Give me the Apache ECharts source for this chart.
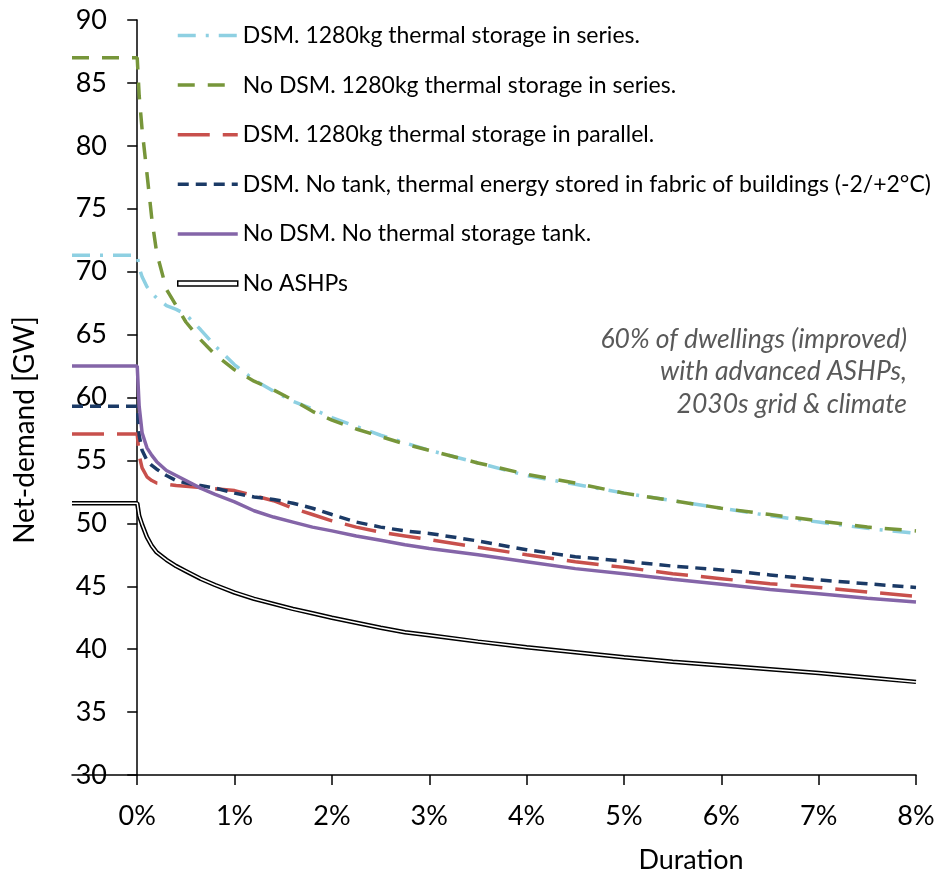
<!DOCTYPE html>
<html>
<head>
<meta charset="utf-8">
<script src="https://cdn.jsdelivr.net/npm/echarts@6/dist/echarts.min.js"></script>
<style>
  html, body { margin: 0; padding: 0; background: #fff; }
  #chart { width: 941px; height: 879px; }
</style>
</head>
<body>
<div id="chart"></div>
<script>
// duration (% of the year), first point is the left edge of the plot
const duration = [-0.67, 0, 0.02, 0.05, 0.1, 0.15, 0.2, 0.3, 0.4, 0.5, 0.65, 0.8,
  1, 1.2, 1.4, 1.6, 1.8, 2, 2.25, 2.5, 2.75, 3, 3.5, 4, 4.5, 5, 5.5, 6, 6.5, 7, 7.5, 8];

// net-demand [GW]
const dsmSeries = [71.3, 71.3, 70.3, 69.6, 68.8, 68.3, 67.9, 67.3, 67.0, 66.6, 65.4, 64.1,
  62.6, 61.4, 60.5, 59.7, 59.1, 58.4, 57.7, 57.0, 56.4, 55.8, 54.8, 53.8, 53.1, 52.4, 51.8, 51.2, 50.6, 50.1, 49.6, 49.2];
const noDsmSeries = [87.0, 87.0, 84.0, 81.3, 77.8, 74.2, 71.5, 68.6, 67.3, 66.0, 64.6, 63.4,
  62.2, 61.3, 60.6, 59.8, 58.9, 58.2, 57.5, 56.9, 56.3, 55.8, 54.8, 53.9, 53.2, 52.4, 51.8, 51.2, 50.7, 50.2, 49.7, 49.4];
const dsmParallel = [57.1, 57.1, 55.4, 54.4, 53.7, 53.4, 53.2, 53.1, 53.0, 52.95, 52.85, 52.75,
  52.6, 52.2, 51.8, 51.2, 50.7, 50.2, 49.7, 49.3, 49.0, 48.7, 48.1, 47.5, 46.95, 46.5, 46.0, 45.6, 45.2, 44.9, 44.55, 44.2];
const dsmNoTank = [59.3, 59.3, 57.0, 55.8, 55.0, 54.6, 54.3, 53.8, 53.4, 53.2, 53.0, 52.8,
  52.4, 52.1, 51.9, 51.6, 51.2, 50.7, 50.1, 49.7, 49.4, 49.2, 48.6, 47.9, 47.35, 47.0, 46.6, 46.3, 45.9, 45.5, 45.2, 44.9];
const noDsmNoTank = [62.5, 62.5, 59.3, 57.2, 56.0, 55.4, 54.9, 54.2, 53.8, 53.4, 52.8, 52.3,
  51.7, 51.0, 50.5, 50.1, 49.7, 49.4, 49.0, 48.65, 48.3, 48.0, 47.5, 46.95, 46.4, 46.0, 45.55, 45.15, 44.75, 44.4, 44.05, 43.75];
const noAshps = [51.6, 51.6, 50.6, 49.9, 48.9, 48.2, 47.7, 47.1, 46.6, 46.2, 45.6, 45.1,
  44.5, 44.0, 43.6, 43.2, 42.85, 42.5, 42.1, 41.7, 41.35, 41.1, 40.6, 40.15, 39.75, 39.35, 39.0, 38.7, 38.4, 38.1, 37.75, 37.4];

const xTicks = [0, 1, 2, 3, 4, 5, 6, 7, 8];
const names = [
  'DSM. 1280kg thermal storage in series.',
  'No DSM. 1280kg thermal storage in series.',
  'DSM. 1280kg thermal storage in parallel.',
  'DSM. No tank, thermal energy stored in fabric of buildings (-2/+2°C)',
  'No DSM. No thermal storage tank.',
  'No ASHPs'
];

const FONT = 'Lato';

function pairs(vals) {
  return duration.map((d, i) => [d, vals[i]]);
}

function lineSeries(name, vals, color, dash, width) {
  return {
    name: name,
    type: 'line',
    data: pairs(vals),
    symbol: 'none',
    silent: true,
    lineStyle: { color: color, width: width || 3.5, type: dash || 'solid' }
  };
}

const chart = echarts.init(document.getElementById('chart'));

let option = {
  animation: false,
  grid: { left: 72, right: 25, top: 20, bottom: 104 },
  xAxis: {
    type: 'value',
    min: -0.67,
    max: 8,
    axisLine: { onZero: false, lineStyle: { color: '#000', width: 1.5 } },
    axisTick: { customValues: xTicks, length: 10, lineStyle: { color: '#000', width: 1.5 } },
    axisLabel: {
      customValues: xTicks,
      formatter: v => v + '%',
      fontFamily: FONT, fontSize: 27, color: '#000', margin: 28
    },
    splitLine: { show: false }
  },
  yAxis: {
    type: 'value',
    min: 30,
    max: 90,
    interval: 5,
    axisLine: { show: true, onZero: true, lineStyle: { color: '#000', width: 1.5 } },
    axisTick: { show: true, length: 10, lineStyle: { color: '#000', width: 1.5 } },
    // labels sit next to the axis line at 0%, not at the grid edge
    axisLabel: { fontFamily: FONT, fontSize: 27, color: '#000', margin: -35 },
    splitLine: { show: false }
  },
  legend: {
    orient: 'vertical',
    left: 176,
    top: 24,
    padding: 0,
    itemWidth: 60,
    itemHeight: 14,
    itemGap: 26.6,
    selectedMode: false,
    lineStyle: { width: 3.5 },
    itemStyle: { opacity: 0 },
    textStyle: { fontFamily: FONT, fontSize: 23, color: '#000', lineHeight: 22 },
    data: [
      names[0], names[1], names[2], names[3], names[4],
      {
        name: names[5],
        icon: 'path://M0,0M0,4.5L60,4.5L60,9.5L0,9.5ZM60,14',
        itemStyle: { color: '#fff', borderColor: '#000', borderWidth: 1.5, opacity: 1 }
      }
    ]
  },
  graphic: [
    {
      type: 'text', x: 907, y: 323,
      style: {
        text: '60% of dwellings (improved)\nwith advanced ASHPs,\n2030s grid & climate',
        align: 'right', verticalAlign: 'top', lineHeight: 32.5,
        fontFamily: FONT, fontStyle: 'italic', fontSize: 26.5, fill: '#595959'
      }
    },
    {
      type: 'text', x: 25, y: 430, rotation: Math.PI / 2,
      style: {
        text: 'Net-demand [GW]', align: 'center', verticalAlign: 'middle',
        fontFamily: FONT, fontSize: 28, fill: '#000'
      }
    },
    {
      type: 'text', x: 691, y: 860,
      style: {
        text: 'Duration', align: 'center', verticalAlign: 'middle',
        fontFamily: FONT, fontSize: 27, fill: '#000'
      }
    }
  ],
  series: [
    lineSeries(names[0], dsmSeries, '#8ED0E2', [18, 10, 3, 10]),
    lineSeries(names[1], noDsmSeries, '#77963A', [17, 13]),
    lineSeries(names[2], dsmParallel, '#C8504C', [32, 13]),
    lineSeries(names[3], dsmNoTank, '#1B3A66', [11, 7]),
    lineSeries(names[4], noDsmNoTank, '#8465A8'),
    lineSeries(names[5], noAshps, '#000', 'solid', 4.5),
    lineSeries('No ASHPs inner', noAshps, '#fff', 'solid', 1.5)
  ]
};

chart.setOption(option);
</script>
</body>
</html>
